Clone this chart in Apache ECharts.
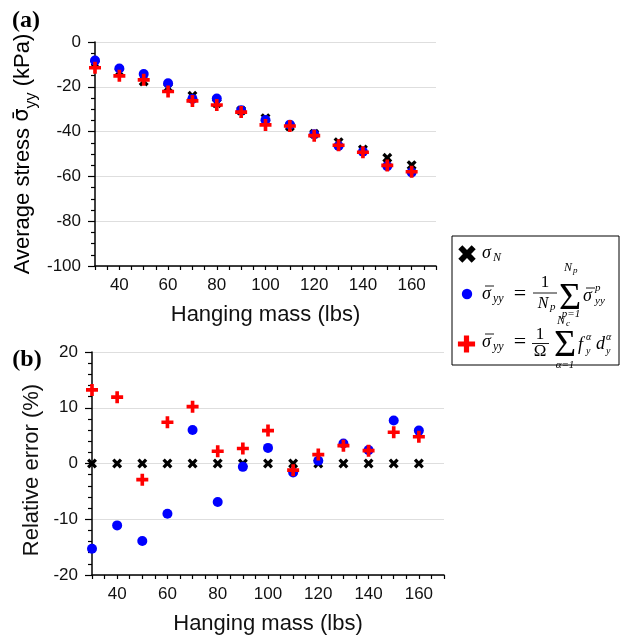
<!DOCTYPE html>
<html lang="en">
<head>
  <meta charset="UTF-8">
  <title>Average stress vs hanging mass</title>
  <script src="https://cdn.jsdelivr.net/npm/echarts@6/dist/echarts.min.js"></script>
  <style>
    body { margin: 0; background: #fff; }
    #main { width: 622px; height: 640px; }
  </style>
</head>
<body>
  <div id="main"></div>
  <script>
    // data
    var mass = [30, 40, 50, 60, 70, 80, 90, 100, 110, 120, 130, 140, 150, 160];
    // (a) average stress, kPa
    var stressN = [-9.9, -13.4, -17.6, -20.4, -24.0, -27.3, -30.6, -34.0, -37.7, -41.0, -44.7, -48.0, -51.7, -55.0];
    var stressP = [-8.3, -11.8, -14.3, -18.4, -25.4, -25.2, -30.5, -34.8, -36.9, -41.2, -46.4, -49.0, -55.4, -58.2];
    var stressC = [-11.5, -15.1, -16.9, -22.1, -26.3, -28.1, -31.3, -37.0, -37.5, -41.8, -46.1, -49.2, -55.1, -57.9];
    // (b) relative error, %
    var errN = [0, 0, 0, 0, 0, 0, 0, 0, 0, 0, 0, 0, 0, 0];
    var errP = [-15.3, -11.1, -13.9, -9.0, 6.0, -6.9, -0.6, 2.8, -1.6, 0.5, 3.6, 2.4, 7.7, 5.9];
    var errC = [13.2, 11.9, -2.9, 7.4, 10.2, 2.2, 2.7, 5.9, -1.2, 1.6, 3.2, 2.3, 5.6, 4.8];

    var sans = 'Liberation Sans';
    var serif = 'Liberation Serif';
    var plusPath = 'path://M-1,-3.3H1V-1H3.3V1H1V3.3H-1V1H-3.3V-1H-1Z';
    var crossPath = 'path://M-3,-1.6L-1.6,-3L0,-1.4L1.6,-3L3,-1.6L1.4,0L3,1.6L1.6,3L0,1.4L-1.6,3L-3,1.6L-1.4,0Z';

    function pairs(ys) {
      return mass.map(function (m, i) { return [m, ys[i]]; });
    }

    function xAxisOf(gridIndex) {
      return {
        type: 'value', gridIndex: gridIndex, min: 30, max: 170, interval: 10,
        name: 'Hanging mass (lbs)', nameLocation: 'middle', nameGap: 38,
        nameTextStyle: { fontFamily: sans, fontSize: 22, color: '#111' },
        axisLine: { show: true, onZero: false, lineStyle: { color: '#000', width: 1.5 } },
        axisTick: { show: true, length: 4, lineStyle: { color: '#000', width: 1.2 } },
        minorTick: { show: true, splitNumber: 2, length: 4, lineStyle: { color: '#000', width: 1.2 } },
        axisLabel: {
          fontFamily: sans, fontSize: 17, color: '#111', margin: 11,
          formatter: function (v) { return v % 20 === 0 ? v : ''; }
        },
        splitLine: { show: false }
      };
    }

    function yAxisOf(gridIndex, min, max, interval, minorSplit) {
      return {
        type: 'value', gridIndex: gridIndex, min: min, max: max, interval: interval,
        axisLine: { show: true, onZero: false, lineStyle: { color: '#000', width: 1.5 } },
        axisTick: { show: true, length: 7, lineStyle: { color: '#000', width: 1.2 } },
        minorTick: { show: true, splitNumber: minorSplit, length: 4, lineStyle: { color: '#000', width: 1.2 } },
        axisLabel: { fontFamily: sans, fontSize: 17, color: '#111', margin: 14 },
        splitLine: { show: true, lineStyle: { color: '#dedede', width: 1.2 } }
      };
    }

    function scatter(data, g, symbol, size, color) {
      return {
        type: 'scatter', xAxisIndex: g, yAxisIndex: g, data: pairs(data),
        symbol: symbol, symbolSize: size, clip: false,
        itemStyle: { color: color, opacity: 1 },
        emphasis: { disabled: true }
      };
    }

    // legend helpers (drawn by hand because the labels are formulas)
    function txt(x, y, s, size, italic, align) {
      return {
        type: 'text', x: x, y: y, z: 20,
        style: {
          text: s, fontFamily: serif, fontSize: size,
          fontStyle: italic ? 'italic' : 'normal', fill: '#000',
          align: align || 'left', verticalAlign: 'middle',
          textAlign: align || 'left', textVerticalAlign: 'middle'
        }
      };
    }
    function bar(x1, x2, y, w) {
      return { type: 'line', z: 20, shape: { x1: x1, y1: y, x2: x2, y2: y }, style: { stroke: '#000', lineWidth: w || 0.9 } };
    }
    function poly(pts, cx, cy, s, color) {
      return {
        type: 'polygon', z: 20,
        shape: { points: pts.map(function (p) { return [cx + p[0] * s, cy + p[1] * s]; }) },
        style: { fill: color }
      };
    }
    var crossPts = [[-3, -1.6], [-1.6, -3], [0, -1.4], [1.6, -3], [3, -1.6], [1.4, 0], [3, 1.6], [1.6, 3], [0, 1.4], [-1.6, 3], [-3, 1.6], [-1.4, 0]];
    var plusPts = [[-1, -3.3], [1, -3.3], [1, -1], [3.3, -1], [3.3, 1], [1, 1], [1, 3.3], [-1, 3.3], [-1, 1], [-3.3, 1], [-3.3, -1], [-1, -1]];

    var legendParts = [
      { type: 'rect', z: 19, shape: { x: 452, y: 236, width: 167, height: 129 }, style: { fill: '#fff', stroke: '#000', lineWidth: 1 } },
      poly(crossPts, 467, 254, 2.9, '#000'),
      { type: 'circle', z: 20, shape: { cx: 467, cy: 294, r: 5.2 }, style: { fill: '#0000ff' } },
      poly(plusPts, 466.5, 344, 2.6, '#ff0000'),
      // row 1
      txt(482, 253, 'σ', 18, true), txt(493, 258, 'N', 12, true),
      // row 2
      txt(482, 294, 'σ', 18, true), bar(485, 494, 286), txt(493, 299, 'yy', 12, true),
      txt(520, 294, '=', 22, false, 'center'),
      txt(545, 283, '1', 17, false, 'center'), bar(533, 557, 293),
      txt(543, 304, 'N', 16, true, 'center'), txt(550, 307, 'p', 11, true),
      txt(570, 299, 'Σ', 38, false, 'center'),
      txt(568, 268, 'N', 12, true, 'center'), txt(573, 271, 'p', 9, true),
      txt(571, 314, 'p=1', 11, true, 'center'),
      txt(583, 296, 'σ', 18, true), bar(586, 595, 288), txt(595, 288, 'p', 11, true), txt(595, 301, 'yy', 11, true),
      // row 3
      txt(482, 342, 'σ', 18, true), bar(485, 494, 334), txt(493, 347, 'yy', 12, true),
      txt(520, 342, '=', 22, false, 'center'),
      txt(540, 335, '1', 17, false, 'center'), bar(532, 549, 343.5),
      txt(540, 352, 'Ω', 17, false, 'center'),
      txt(565, 346, 'Σ', 38, false, 'center'),
      txt(561, 321, 'N', 12, true, 'center'), txt(566, 324, 'c', 9, true),
      txt(565, 365, 'α=1', 11, true, 'center'),
      txt(578, 345, 'f', 18, true), txt(586, 337, 'α', 10, true), txt(586, 351, 'y', 10, true),
      txt(596, 344, 'd', 18, true), txt(606, 337, 'α', 10, true), txt(606, 351, 'y', 10, true)
    ];

    var myChart = echarts.init(document.getElementById('main'));
    var option = {
      animation: false,
      backgroundColor: '#fff',
      grid: [
        { left: 95, top: 42, width: 341, height: 224 },
        { left: 92, top: 352, width: 352, height: 223 }
      ],
      xAxis: [xAxisOf(0), xAxisOf(1)],
      yAxis: [yAxisOf(0, -100, 0, 20, 4), yAxisOf(1, -20, 20, 10, 5)],
      series: [
        scatter(stressN, 0, crossPath, 10, '#000'),
        scatter(stressP, 0, 'circle', 10, '#0000ff'),
        scatter(stressC, 0, plusPath, 12, '#ff0000'),
        scatter(errN, 1, crossPath, 10, '#000'),
        scatter(errP, 1, 'circle', 10, '#0000ff'),
        scatter(errC, 1, plusPath, 12, '#ff0000')
      ],
      graphic: [
        {
          type: 'text', x: 26, y: 21,
          style: { text: '(a)', fontFamily: serif, fontWeight: 'bold', fontSize: 24, fill: '#000', align: 'center', verticalAlign: 'middle', textAlign: 'center', textVerticalAlign: 'middle' }
        },
        {
          type: 'text', x: 27, y: 360,
          style: { text: '(b)', fontFamily: serif, fontWeight: 'bold', fontSize: 24, fill: '#000', align: 'center', verticalAlign: 'middle', textAlign: 'center', textVerticalAlign: 'middle' }
        },
        {
          type: 'text', x: 23, y: 154, rotation: Math.PI / 2,
          style: {
            text: '{a|Average stress }{s|σ̄}{b|yy}{a| (kPa)}',
            align: 'center', verticalAlign: 'middle', textAlign: 'center', textVerticalAlign: 'middle',
            rich: {
              a: { fontFamily: sans, fontSize: 22, color: '#111', lineHeight: 34, verticalAlign: 'middle' },
              s: { fontFamily: 'DejaVu Sans', fontSize: 21, color: '#111', lineHeight: 34, verticalAlign: 'middle' },
              b: { fontFamily: sans, fontSize: 16, color: '#111', lineHeight: 18, verticalAlign: 'bottom' }
            }
          }
        },
        {
          type: 'text', x: 32, y: 470, rotation: Math.PI / 2,
          style: { text: 'Relative error (%)', fontFamily: sans, fontSize: 22, fill: '#111', align: 'center', verticalAlign: 'middle', textAlign: 'center', textVerticalAlign: 'middle' }
        }
      ].concat(legendParts)
    };
    myChart.setOption(option);
  </script>
</body>
</html>
